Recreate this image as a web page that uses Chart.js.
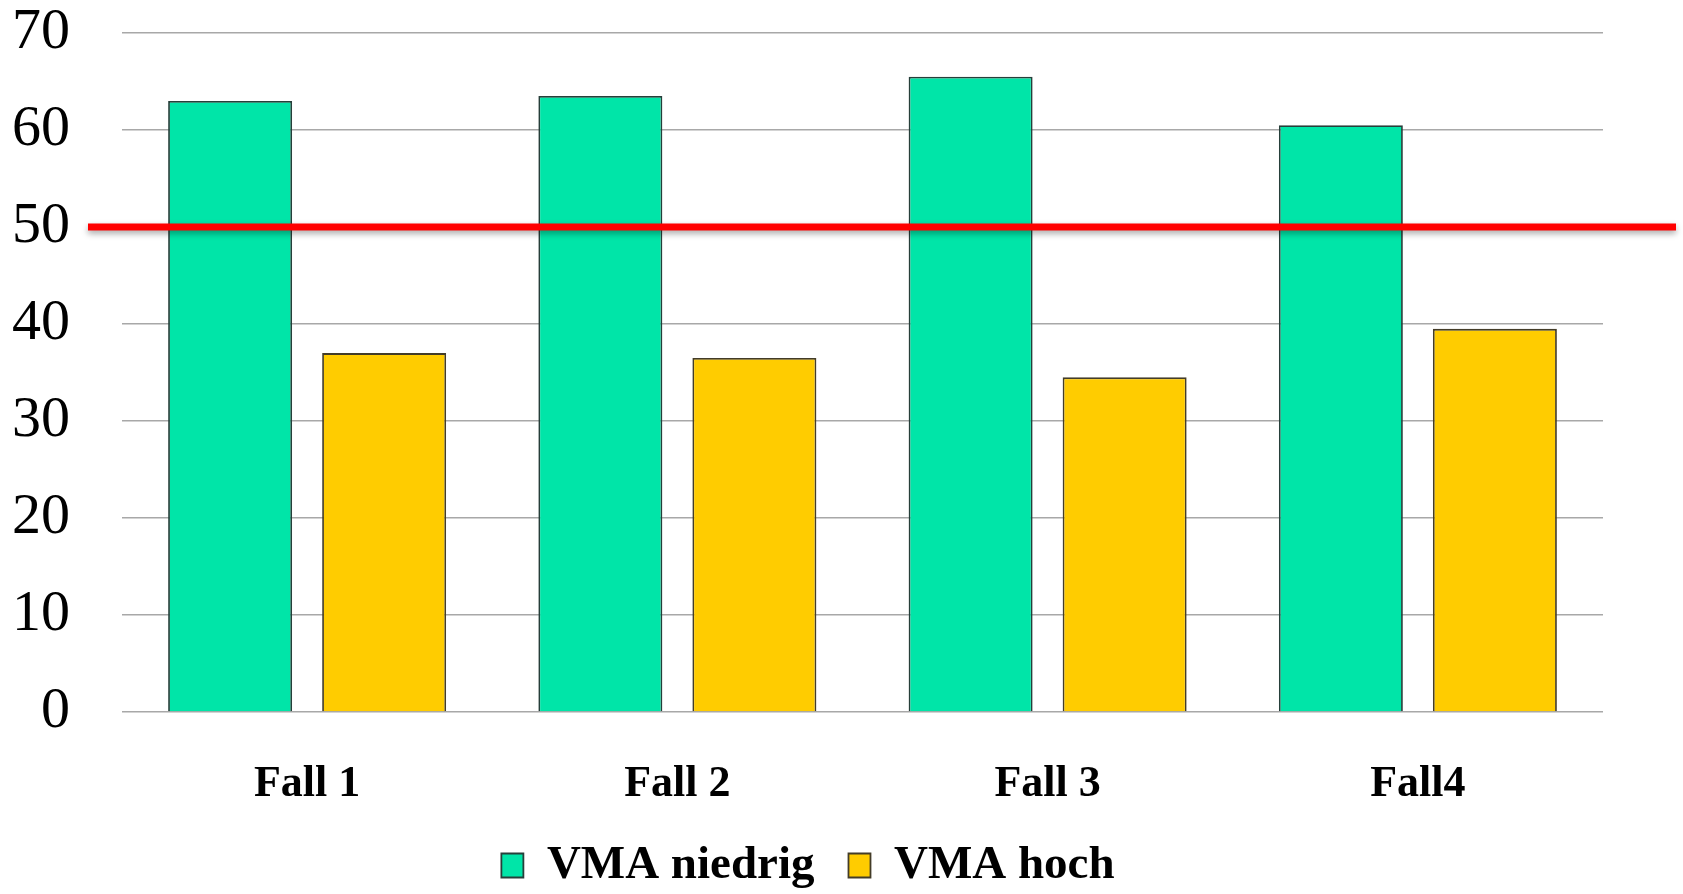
<!DOCTYPE html>
<html>
<head>
<meta charset="utf-8">
<script src="https://cdn.jsdelivr.net/npm/chart.js@4/dist/chart.umd.min.js"></script>
<style>
  html, body { margin: 0; padding: 0; background: #fff; overflow: hidden; }
  #wrap { width: 1683px; height: 899px; }
</style>
</head>
<body>
<div id="wrap"><canvas id="myChart"></canvas></div>
<script>
const categories = ['Fall 1', 'Fall 2', 'Fall 3', 'Fall4'];
const seriesNames = ['VMA niedrig', 'VMA hoch'];
const vmaNiedrig = [63, 63.5, 65.5, 60.5];
const vmaHoch = [37, 36.5, 34.5, 39.5];
const yTicks = [0, 10, 20, 30, 40, 50, 60, 70];
const threshold = 50;

// red limit line, drawn over the bars with a soft shadow
const limitLine = {
    id: 'limitLine',
    afterDatasetsDraw(chart) {
        let ctx = chart.ctx;
        let y = chart.scales.y.getPixelForValue(threshold);
        ctx.save();
        ctx.shadowColor = 'rgba(0,0,0,0.35)';
        ctx.shadowBlur = 6;
        ctx.shadowOffsetY = 3;
        ctx.strokeStyle = '#ff0000';
        ctx.lineWidth = 7;
        ctx.beginPath();
        ctx.moveTo(chart.chartArea.left - 34, y);
        ctx.lineTo(chart.width - 7, y);
        ctx.stroke();
        ctx.restore();
    }
};

let ctx = document.getElementById('myChart').getContext('2d');
let chart = new Chart(ctx, {
    type: 'bar',
    data: {
        labels: categories,
        datasets: [
            {
                label: seriesNames[0],
                data: vmaNiedrig,
                backgroundColor: '#00e5a8',
                borderColor: '#263f3a',
                borderWidth: 1.8,
                categoryPercentage: 0.832,
                barPercentage: 0.805
            },
            {
                label: seriesNames[1],
                data: vmaHoch,
                backgroundColor: '#ffcc00',
                borderColor: '#433c28',
                borderWidth: 1.8,
                categoryPercentage: 0.832,
                barPercentage: 0.805
            }
        ]
    },
    options: {
        responsive: true,
        maintainAspectRatio: false,
        animation: false,
        layout: { padding: { left: 13, right: 80, top: 0, bottom: 0 } },
        plugins: {
            tooltip: { enabled: false },
            legend: {
                position: 'bottom',
                labels: {
                    color: '#000',
                    font: { family: 'Liberation Serif', size: 47, weight: 'bold' },
                    boxWidth: 22,
                    boxHeight: 24,
                    padding: 34
                }
            }
        },
        scales: {
            x: {
                grid: { display: false },
                border: { display: false },
                ticks: {
                    color: '#000',
                    padding: 38,
                    font: { family: 'Liberation Serif', size: 44, weight: 'bold' }
                },
                afterFit: (scale) => { scale.height = 96; }
            },
            y: {
                min: yTicks[0],
                max: yTicks[yTicks.length - 1],
                afterBuildTicks: (scale) => { scale.ticks = yTicks.map(v => ({ value: v })); },
                grid: { color: '#a8a8a8', lineWidth: 1.5, drawTicks: false },
                border: { display: false },
                ticks: {
                    color: '#000',
                    padding: 52,
                    font: { family: 'Liberation Serif', size: 58 }
                },
                afterFit: (scale) => {
                    scale.width = 109;
                    scale.paddingTop = 33;
                    scale.paddingBottom = 0;
                }
            }
        }
    },
    plugins: [limitLine]
});
</script>
</body>
</html>
